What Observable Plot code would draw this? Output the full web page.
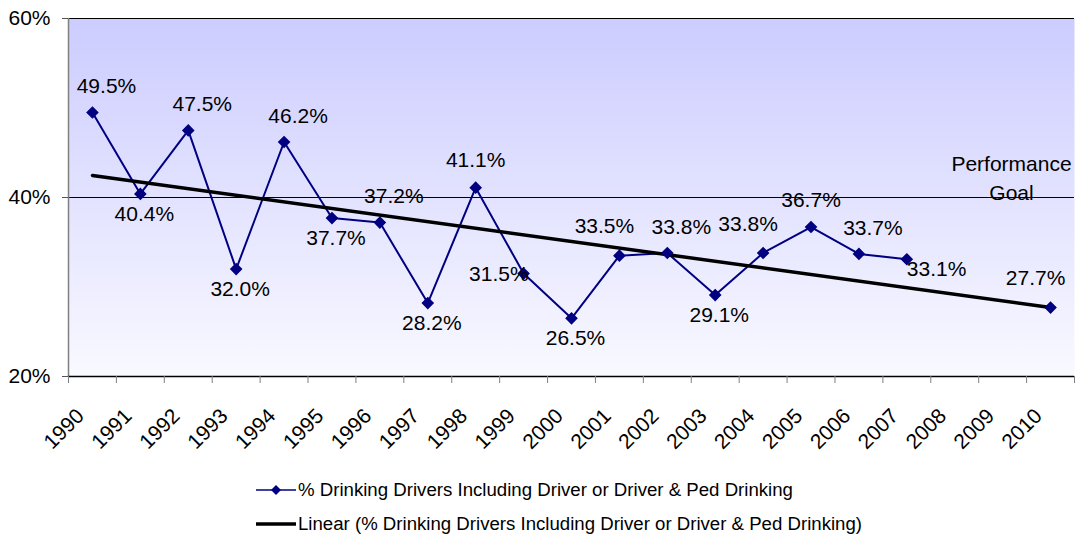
<!DOCTYPE html>
<html>
<head>
<meta charset="utf-8">
<script src="https://cdn.jsdelivr.net/npm/d3@7"></script>
<script src="https://cdn.jsdelivr.net/npm/@observablehq/plot@0.6"></script>
<style>
  html, body { margin: 0; padding: 0; background: #ffffff; }
  #chart { width: 1077px; }
  svg { display: block; }
</style>
</head>
<body>
<div id="chart"></div>
<script>
// ---- data ----
const years = [1990, 1991, 1992, 1993, 1994, 1995, 1996, 1997, 1998, 1999, 2000,
               2001, 2002, 2003, 2004, 2005, 2006, 2007, 2008, 2009, 2010];
const values = [49.5, 40.4, 47.5, 32.0, 46.2, 37.7, 37.2, 28.2, 41.1, 31.5, 26.5,
                33.5, 33.8, 29.1, 33.8, 36.7, 33.7, 33.1, null, null, 27.7];
const labelPlacement = ["aboveRight", "below", "aboveRight", "below", "aboveRight", "below",
                        "aboveRight", "below", "above", "left", "below", "aboveLeft",
                        "aboveRight", "below", "aboveLeft", "above", "aboveRight", "right",
                        null, null, "aboveLeft"];
const yTicks = [20, 40, 60];
const goal = 40;
const goalLabel = "Performance\nGoal";
const seriesName = "% Drinking Drivers Including Driver or Driver & Ped Drinking";
const trendName = "Linear (% Drinking Drivers Including Driver or Driver & Ped Drinking)";

// ---- table ----
const rows = years.map((year, i) => ({year, value: values[i], place: labelPlacement[i]}));
const points = rows.filter(d => d.value != null);
const boundaries = years.map(y => y - 0.5).concat([years[years.length - 1] + 0.5]);

const font = "'Liberation Sans', Arial, sans-serif";
const navy = "#000080";
const FS = 21;

const placements = {
  aboveRight: {dx: 14, dy: -26, textAnchor: "middle"},
  above:      {dx: 0,  dy: -27, textAnchor: "middle"},
  aboveLeft:  {dx: -15, dy: -29, textAnchor: "middle"},
  below:      {dx: 4,  dy: 20, textAnchor: "middle"},
  left:       {dx: 5,  dy: 1, textAnchor: "end"},
  right:      {dx: 0,  dy: 10, textAnchor: "start"}
};

const labelMarks = Object.entries(placements).map(([key, o]) =>
  Plot.text(points.filter(d => d.place === key), {
    x: "year", y: "value",
    text: d => d.value.toFixed(1) + "%",
    dx: o.dx, dy: o.dy, textAnchor: o.textAnchor, lineAnchor: "middle",
    fontSize: FS, fill: "black"
  })
);

const H = 462;
const plot = Plot.plot({
  width: 1077,
  height: H,
  marginLeft: 68,
  marginRight: 3,
  marginTop: 18,
  marginBottom: H - 376,
  style: {fontFamily: font, fontSize: FS + "px", background: "transparent", color: "black"},
  x: {type: "linear", domain: [boundaries[0], boundaries[boundaries.length - 1]], axis: null},
  y: {domain: [20, 60], axis: null},
  marks: [
    Plot.frame({fill: "url(#bgGrad)", stroke: "none"}),
    Plot.ruleY([60, goal], {stroke: "black", strokeWidth: 1}),
    Plot.ruleX([boundaries[0]], {stroke: "#808080", strokeWidth: 1.5}),
    Plot.ruleY([20], {stroke: "black", strokeWidth: 1.5}),
    Plot.axisY(yTicks, {tickSize: 6, tickPadding: 12, tickFormat: d => d + "%", fontSize: FS, stroke: "#555", label: null}),
    Plot.axisX(boundaries, {tickSize: 7, tickFormat: () => "", stroke: "#808080", label: null}),
    Plot.axisX(years, {tickSize: 0, tickRotate: -45, tickPadding: 36, dx: -12, fontSize: FS,
                       tickFormat: d => String(d), label: null}),
    Plot.text([goal], {y: d => d, text: () => goalLabel, frameAnchor: "right", dx: -63,
                       textAnchor: "middle", lineAnchor: "bottom", dy: 2, lineHeight: 1.35,
                       fontSize: FS, fill: "black"}),
    Plot.line(rows, {x: "year", y: "value", stroke: navy, strokeWidth: 2}),
    Plot.linearRegressionY(points, {x: "year", y: "value", stroke: "black", strokeWidth: 3.5, ci: 0}),
    Plot.dot(points, {x: "year", y: "value", symbol: "square", r: 4.2, rotate: 45, fill: navy, stroke: navy}),
    ...labelMarks
  ]
});

// gradient definition
const ns = "http://www.w3.org/2000/svg";
const defs = document.createElementNS(ns, "defs");
defs.innerHTML = '<linearGradient id="bgGrad" x1="0" y1="0" x2="0" y2="1">' +
  '<stop offset="0" stop-color="#ccccff"/><stop offset="1" stop-color="#f9f9ff"/></linearGradient>';
plot.insertBefore(defs, plot.firstChild);
document.getElementById("chart").appendChild(plot);

// legend below
const legend = d3.create("svg").attr("width", 1077).attr("height", 542 - H)
  .style("font-family", font);
const rowsY = [490 - H, 524 - H];
legend.append("line").attr("x1", 256).attr("x2", 296).attr("y1", rowsY[0]).attr("y2", rowsY[0])
  .attr("stroke", navy).attr("stroke-width", 1.5);
legend.append("path").attr("d", d3.symbol(d3.symbolSquare, 50)())
  .attr("transform", `translate(276,${rowsY[0]}) rotate(45)`).attr("fill", navy);
legend.append("line").attr("x1", 256).attr("x2", 296).attr("y1", rowsY[1]).attr("y2", rowsY[1])
  .attr("stroke", "black").attr("stroke-width", 3.5);
[[seriesName, 495], [trendName, 564]].forEach(([t, w], i) => {
  legend.append("text").attr("x", 298).attr("y", rowsY[i]).attr("dy", "0.35em")
    .attr("font-size", 18).attr("textLength", w).attr("lengthAdjust", "spacingAndGlyphs")
    .text(t);
});
document.getElementById("chart").appendChild(legend.node());
</script>
</body>
</html>
